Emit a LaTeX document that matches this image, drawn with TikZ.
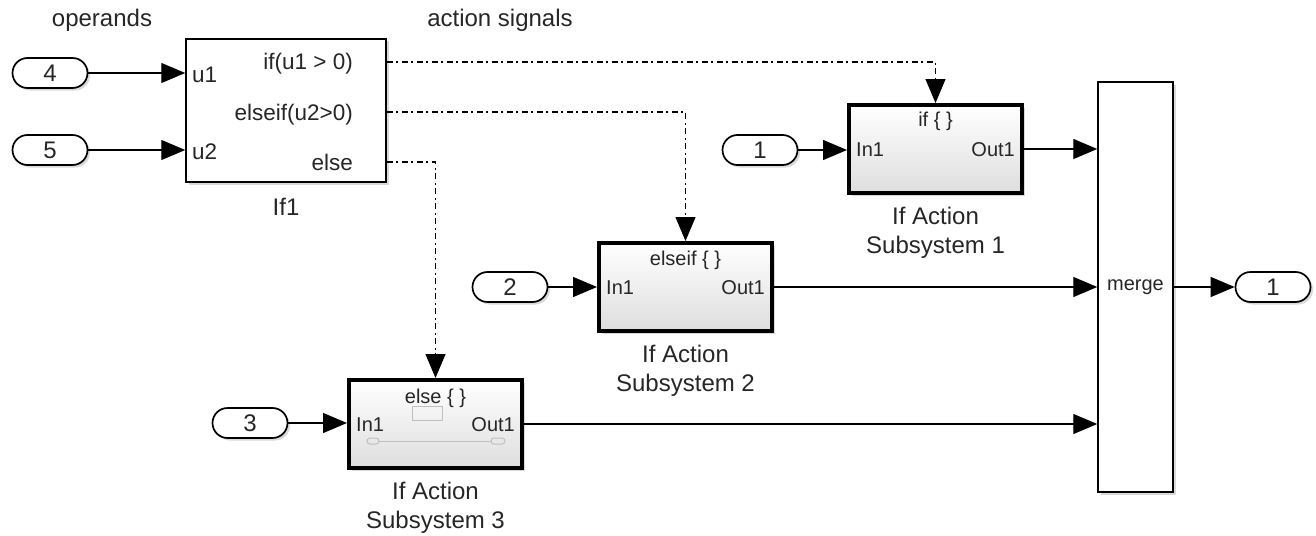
\documentclass[tikz,border=0pt]{standalone}
\usepackage{fontspec}
\setmainfont{Liberation Sans}
\usetikzlibrary{shadows, positioning, arrows.meta}
\tikzset{
    signal line/.style = {draw, line width=1.3pt, -{Triangle[length=24pt, width=20pt]}},
    action line/.style = {signal line, dash pattern=on 6pt off 3.5pt on 2pt off 3.5pt},
    soft shadow/.style = {drop shadow={shadow xshift=2.5pt, shadow yshift=-2.5pt, opacity=.3}},
}
\tikzset{
    port oval/.style = {draw, fill=white, soft shadow, line width=1.7pt, rounded corners=15pt,
        minimum width=75pt, minimum height=30pt, inner sep=0pt, text=black!85,
        font=\fontsize{24}{28}\selectfont},
    if block/.style = {draw, fill=white, soft shadow, line width=1.5pt, inner sep=0pt},
    action block/.style = {draw, top color=white, bottom color=black!13, soft shadow,
        line width=4pt, minimum width=173pt, minimum height=88pt, inner sep=0pt},
    block label/.style = {inner sep=0pt, align=center, text=black!85,
        font=\fontsize{24}{29}\selectfont},
    port text/.style = {inner sep=0pt, text=black!85, font=\fontsize{22.5}{26}\selectfont,
        text height=16pt, text depth=0pt},
    inner text/.style = {inner sep=0pt, text=black!85, font=\fontsize{20}{24}\selectfont,
        text height=14.5pt, text depth=0pt},
    deco/.style = {draw=black!25, line width=1pt},
}

\begin{document}
\begin{tikzpicture}[x=1pt, y=-1pt]
    \useasboundingbox (0,0) rectangle (1316,535);

    \node[block label] (operands) at (102,20) {operands};
    \node[block label] (signals) at (500,20) {action signals};

    \node[port oval] (in4) at (50,73) {4};
    \node[port oval] (in5) at (50,150) {5};

    % if block
    \node[if block, minimum width=200pt, minimum height=143pt] (if1) at (286,110.5) {};
    \node[block label, below=15pt of if1] (if1lbl) {If1};
    \node[port text, anchor=west] (u1) at (192,74) {u1};
    \node[port text, anchor=west] (u2) at (192,151) {u2};
    \node[port text, anchor=east] (ifo) at (353,62) {if(u1 > 0)};
    \node[port text, anchor=east] (elifo) at (353,112) {elseif(u2>0)};
    \node[port text, anchor=east] (elseo) at (353,162) {else};

    \draw[signal line] (in4) -- (in4 -| if1.west);
    \draw[signal line] (in5) -- (in5 -| if1.west);

    % action subsystems
    \node[action block] (sub1) at (935.5,149) {};
    \node[inner text, below=9pt of sub1.north] (sub1hdr) {if \{ \}};
    \node[inner text, right=9pt of sub1.west] (sub1in) {In1};
    \node[inner text, left=9pt of sub1.east] (sub1out) {Out1};
    \node[block label, below=12pt of sub1] (sub1lbl) {If Action\\Subsystem 1};

    \node[action block] (sub2) at (685.5,287) {};
    \node[inner text, below=10pt of sub2.north] (sub2hdr) {elseif \{ \}};
    \node[inner text, right=9pt of sub2.west] (sub2in) {In1};
    \node[inner text, left=9pt of sub2.east] (sub2out) {Out1};
    \node[block label, below=12pt of sub2] (sub2lbl) {If Action\\Subsystem 2};

    \node[action block] (sub3) at (435.5,424) {};
    \node[inner text, below=11pt of sub3.north] (sub3hdr) {else \{ \}};
    \node[inner text, right=9pt of sub3.west] (sub3in) {In1};
    \node[inner text, left=9pt of sub3.east] (sub3out) {Out1};
    \node[block label, below=12pt of sub3] (sub3lbl) {If Action\\Subsystem 3};
    \draw[deco] (412,406) rectangle (442,420);
    \draw[deco] (379,441) -- (491,441);
    \draw[deco, rounded corners=3pt] (367,438) rectangle (379,444);
    \draw[deco, rounded corners=3pt] (491,438) rectangle (505,444);

    \node[port oval] (in1) at (760,150) {1};
    \node[port oval] (in2) at (510,287) {2};
    \node[port oval] (in3) at (250,423) {3};

    \draw[signal line] (in1) -- (in1 -| sub1.west);
    \draw[signal line] (in2) -- (in2 -| sub2.west);
    \draw[signal line] (in3) -- (in3 -| sub3.west);

    \draw[action line] (if1.east |- ifo) -| (sub1.north);
    \draw[action line] (if1.east |- elifo) -| (sub2.north);
    \draw[action line] (if1.east |- elseo) -| (sub3.north);

    % merge
    \node[if block, minimum width=75pt, minimum height=410pt, text=black!85,
        font=\fontsize{20}{24}\selectfont] (merge) at (1135.5,287) {merge};
    \node[port oval] (out1) at (1273,287) {1};

    \draw[signal line] (sub1.east) -- (sub1.east -| merge.west);
    \draw[signal line] (sub2.east) -- (sub2.east -| merge.west);
    \draw[signal line] (sub3.east) -- (sub3.east -| merge.west);
    \draw[signal line] (merge) -- (out1);
\end{tikzpicture}
\end{document}
